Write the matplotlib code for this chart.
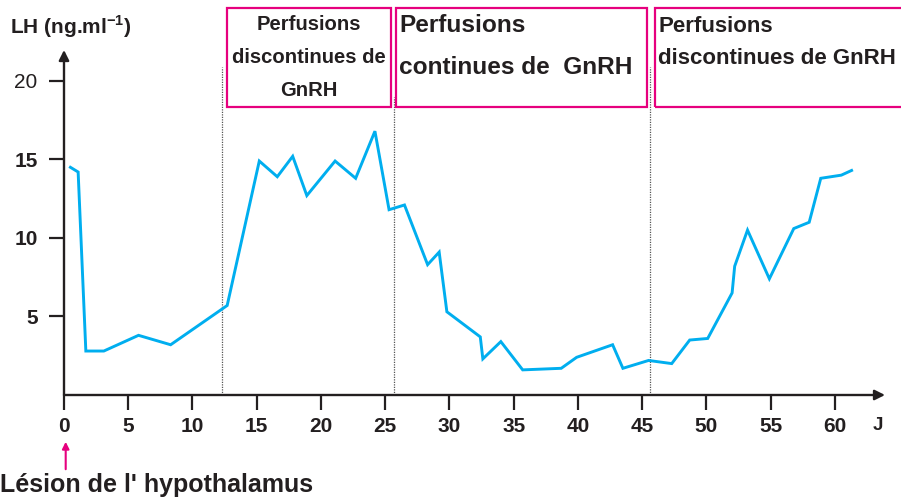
import matplotlib
matplotlib.use("Agg")
import matplotlib.pyplot as plt
from matplotlib.patches import Rectangle, FancyArrowPatch

plt.rcParams['font.family'] = ['Liberation Sans', 'DejaVu Sans']
plt.rcParams['mathtext.fontset'] = 'custom'
plt.rcParams['mathtext.rm'] = 'Liberation Sans'
plt.rcParams['mathtext.bf'] = 'Liberation Sans:bold'

# LH plasma level (ng/ml) over time (days)
days = [0.5, 1.1, 1.7, 3.1, 5.8, 8.3, 12.7, 15.2, 16.6, 17.8, 18.9, 21.1, 22.7,
        24.2, 25.3, 26.5, 28.3, 29.2, 29.8, 32.4, 32.6, 34.0, 35.7, 38.7, 39.9,
        42.7, 43.5, 45.5, 47.3, 48.7, 50.1, 52.0, 52.2, 53.2, 54.9, 56.8, 58.0,
        58.9, 60.5, 61.3]
lh = [14.5, 14.2, 2.8, 2.8, 3.8, 3.2, 5.7, 14.9, 13.9, 15.2, 12.7, 14.9, 13.8,
      16.8, 11.8, 12.1, 8.3, 9.1, 5.3, 3.7, 2.3, 3.4, 1.6, 1.7, 2.4,
      3.2, 1.7, 2.2, 2.0, 3.5, 3.6, 6.5, 8.2, 10.5, 7.4, 10.6, 11.0,
      13.8, 14.0, 14.3]

x_ticks = [0, 5, 10, 15, 20, 25, 30, 35, 40, 45, 50, 55, 60]
y_ticks = [5, 10, 15, 20]
boundaries = [12.3, 25.7, 45.6]
boundary_tops = [20.9, 19.0, 20.9]

period_1 = ["Perfusions", "discontinues de", "GnRH"]
period_2 = ["Perfusions", "continues de  GnRH"]
period_3 = ["Perfusions", "discontinues de GnRH"]

INK = '#231f20'
CYAN = '#00aeef'
MAGENTA = '#e6007e'

W, H = 901, 501
fig = plt.figure(figsize=(W / 100, H / 100), dpi=100)
fig.patch.set_facecolor('white')


def fx(px):
    return px / W


def fy(py):
    return 1 - py / H


x_max, y_max = 63.9, 21.97
ax = fig.add_axes([fx(64), fy(395), fx(885) - fx(64), fy(50) - fy(395)])
ax.set_xlim(0, x_max)
ax.set_ylim(0, y_max)
for s in ax.spines.values():
    s.set_visible(False)
ax.patch.set_alpha(0)

# period boundaries
for b, top in zip(boundaries, boundary_tops):
    ax.plot([b, b], [0, top], color='#555555', lw=0.9, ls=(0, (1, 1)),
            clip_on=False, zorder=1)

ax.plot(days, lh, color=CYAN, lw=2.1, solid_joinstyle='miter', zorder=3)

# arrowed axes
for tip in [(x_max, 0), (0, y_max)]:
    ax.annotate('', xy=tip, xytext=(0, 0), xycoords='data',
                arrowprops=dict(arrowstyle='-|>', color=INK, lw=1.7,
                                mutation_scale=15, shrinkA=0, shrinkB=0),
                annotation_clip=False, zorder=4)

ax.set_xticks(x_ticks)
ax.set_xticklabels([str(v) for v in x_ticks])
ax.set_yticks(y_ticks)
ax.set_yticklabels([str(v) for v in y_ticks])
ax.tick_params(axis='x', direction='out', length=11, width=1.6, color=INK,
               labelsize=15, labelcolor=INK, pad=5)
ax.tick_params(axis='y', direction='out', length=11, width=1.6, color=INK,
               labelsize=15, labelcolor=INK, pad=8)
for lab in ax.get_xticklabels():
    lab.set_fontweight('bold')
for lab, v in zip(ax.get_yticklabels(), y_ticks):
    lab.set_fontweight('normal' if v == 20 else 'bold')

# axis titles
fig.text(fx(10), fy(27), r"LH (ng.ml$^{\mathbf{-1}}$)", fontsize=15,
         fontweight='bold', color=INK, ha='left', va='center')
fig.text(fx(878), fy(426), "J", fontsize=13.5, fontweight='bold', color=INK,
         ha='center', va='center')
fig.text(fx(0), fy(485), "Lésion de l' hypothalamus", fontsize=18,
         fontweight='bold', color=INK, ha='left', va='center')
fig.add_artist(FancyArrowPatch(
    (fx(65.7), fy(472)), (fx(65.7), fy(439)), transform=fig.transFigure,
    arrowstyle='-|>', mutation_scale=10, color=MAGENTA, lw=1.5))

# period boxes
boxes = [(226.7, 8.3, 391, 106.7), (395.7, 8.3, 646.7, 106.7),
         (655, 8.3, 905, 106.7)]
for (x0, y0, x1, y1) in boxes:
    fig.add_artist(Rectangle((fx(x0), fy(y1)), fx(x1) - fx(x0),
                             fy(y0) - fy(y1), transform=fig.transFigure,
                             fill=False, edgecolor=MAGENTA, lw=1.6,
                             clip_on=False))

for line, yc in zip(period_1, [24, 57.5, 91]):
    fig.text(fx(309), fy(yc), line, fontsize=14.6, fontweight='bold',
             color=INK, ha='center', va='center')
for line, yc in zip(period_2, [26, 67]):
    fig.text(fx(399), fy(yc), line, fontsize=17.6, fontweight='bold',
             color=INK, ha='left', va='center')
for line, yc in zip(period_3, [27, 58]):
    fig.text(fx(658), fy(yc), line, fontsize=16, fontweight='bold',
             color=INK, ha='left', va='center')

fig.savefig('out.png', dpi=100)
